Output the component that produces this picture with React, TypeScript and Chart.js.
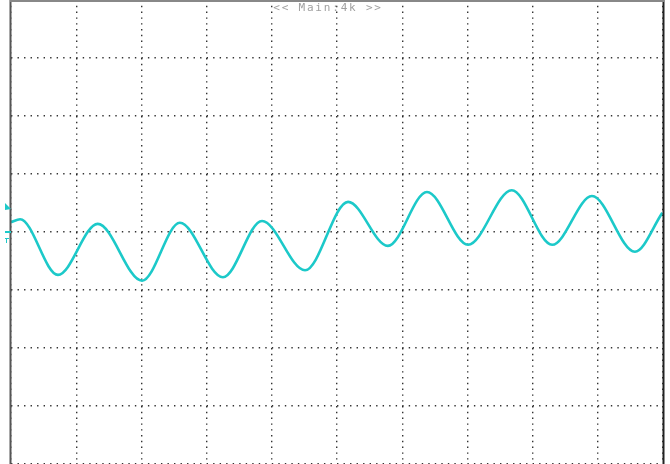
import React, { useEffect, useRef } from "react";
import { Chart, registerables } from "chart.js";

Chart.register(...registerables);

// Trace turning points: time in divisions (0..10), amplitude in divisions (-4..4)
const timeDiv = [
  0.0, 0.14, 0.72, 1.33, 2.01, 2.59, 3.25, 3.85, 4.51, 5.17, 5.78, 6.38,
  7.01, 7.68, 8.3, 8.91, 9.57, 9.99,
];
const voltDiv = [
  0.17, 0.22, -0.74, 0.14, -0.84, 0.16, -0.78, 0.19, -0.66, 0.52, -0.24,
  0.69, -0.22, 0.72, -0.22, 0.62, -0.34, 0.33,
];
const headerText = "<< Main:4k >>";
const xDivisions = 10;
const yDivisions = 8;

const TRACE = "#1cc9c9";

const scopePlugin = {
  id: "scopeDecor",
  afterDraw(chart: any) {
    const { ctx, chartArea } = chart;
    const { left, right, top, bottom } = chartArea;
    ctx.save();
    // frame
    ctx.lineWidth = 2;
    ctx.strokeStyle = "#555";
    ctx.beginPath();
    ctx.moveTo(left - 0.5, top);
    ctx.lineTo(left - 0.5, bottom);
    ctx.stroke();
    ctx.strokeStyle = "#222";
    ctx.beginPath();
    ctx.moveTo(right + 0.5, top);
    ctx.lineTo(right + 0.5, bottom);
    ctx.stroke();
    ctx.strokeStyle = "#888";
    ctx.beginPath();
    ctx.moveTo(left - 1, top + 1);
    ctx.lineTo(right + 1, top + 1);
    ctx.stroke();
    // header
    ctx.fillStyle = "#a0a0a0";
    ctx.font = "11px 'DejaVu Sans Mono', monospace";
    try {
      (ctx as any).letterSpacing = "1.8px";
    } catch (e) {}
    ctx.textAlign = "center";
    ctx.textBaseline = "middle";
    ctx.fillText(headerText, 328, 8);
    try {
      (ctx as any).letterSpacing = "0px";
    } catch (e) {}
    // channel markers
    const y0 = chart.scales.y.getPixelForValue(0);
    ctx.fillStyle = TRACE;
    ctx.beginPath();
    ctx.moveTo(5, 203);
    ctx.lineTo(11, 209);
    ctx.lineTo(5, 210);
    ctx.closePath();
    ctx.fill();
    ctx.fillRect(5, y0 - 1, 6, 2);
    ctx.fillRect(5, y0 + 6, 4, 1);
    ctx.fillRect(6, y0 + 6, 1, 5);
    ctx.restore();
  },
};

export default function App() {
  const ref = useRef<HTMLCanvasElement>(null);
  useEffect(() => {
    document.body.style.margin = "0";
    const points = timeDiv.map((t, i) => ({ x: t, y: voltDiv[i] }));
    const chart = new Chart(ref.current!, {
      type: "line",
      data: {
        datasets: [
          {
            data: points,
            borderColor: TRACE,
            borderWidth: 2.6,
            pointRadius: 0,
            cubicInterpolationMode: "monotone",
            fill: false,
          },
        ],
      },
      options: {
        animation: false,
        responsive: false,
        devicePixelRatio: 1,
        layout: { padding: { left: 11, right: 7, top: 0, bottom: 0 } },
        plugins: { legend: { display: false }, tooltip: { enabled: false } },
        scales: {
          x: {
            type: "linear",
            min: 0,
            max: xDivisions,
            ticks: { display: false, stepSize: 1 },
            grid: { color: "rgba(0,0,0,0.8)", lineWidth: 1.4, drawTicks: false },
            border: { display: false, dash: [1.4, 4.4] },
          },
          y: {
            type: "linear",
            min: -yDivisions / 2,
            max: yDivisions / 2,
            ticks: { display: false, stepSize: 1 },
            grid: { color: "rgba(0,0,0,0.8)", lineWidth: 1.4, drawTicks: false },
            border: { display: false, dash: [1.4, 5.12] },
          },
        },
      },
      plugins: [scopePlugin],
    });
    return () => chart.destroy();
  }, []);
  return (
    <div style={{ width: 670, height: 464 }}>
      <canvas ref={ref} width={670} height={464} style={{ display: "block" }} />
    </div>
  );
}
